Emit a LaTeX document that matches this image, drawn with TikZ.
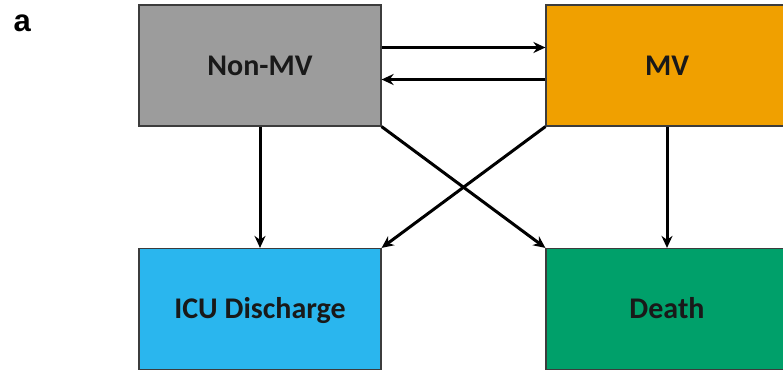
\documentclass[tikz,border=0pt]{standalone}
\usepackage{fontspec}
\setmainfont{Carlito}
\newfontfamily\labelfont{Liberation Sans}
\usetikzlibrary{arrows.meta}
\definecolor{boxgray}{HTML}{9C9C9C}
\definecolor{boxorange}{HTML}{F0A000}
\definecolor{boxblue}{HTML}{2AB6EE}
\definecolor{boxgreen}{HTML}{00A06A}
\definecolor{edgegray}{HTML}{3C3C3C}
\tikzset{
  statebox/.style={draw=edgegray, line width=1.2pt, minimum width=242pt, minimum height=121pt,
    inner sep=0pt, text height=19pt, text depth=0pt,
    font=\fontsize{30}{34}\selectfont\bfseries, text=black!90},
  flow/.style={line width=3pt, -{Stealth[length=12pt,width=11pt]}}
}
\begin{document}
\begin{tikzpicture}[x=1pt,y=-1pt]
\useasboundingbox[fill=white] (0,0) rectangle (783,372);
\clip (0,0) rectangle (783,372);
\node[anchor=base west, font=\labelfont\fontsize{31}{34}\selectfont\bfseries] (lbl) at (10,31) {a};
\node[statebox, fill=boxgray] (nonmv) at (260,65.5) {Non-MV};
\node[statebox, fill=boxorange] (mv) at (667,65.5) {MV};
\node[statebox, fill=boxblue] (icu) at (260,309) {ICU Discharge};
\node[statebox, fill=boxgreen] (death) at (667,309) {Death};
\draw[flow] ([yshift=18pt]nonmv.east) -- ([yshift=18pt]mv.west);
\draw[flow] ([yshift=-14pt]mv.west) -- ([yshift=-14pt]nonmv.east);
\draw[flow] (nonmv.south) -- (icu.north);
\draw[flow] (mv.south) -- (death.north);
\draw[flow] (nonmv.south east) -- (death.north west);
\draw[flow] (mv.south west) -- (icu.north east);
\end{tikzpicture}
\end{document}
